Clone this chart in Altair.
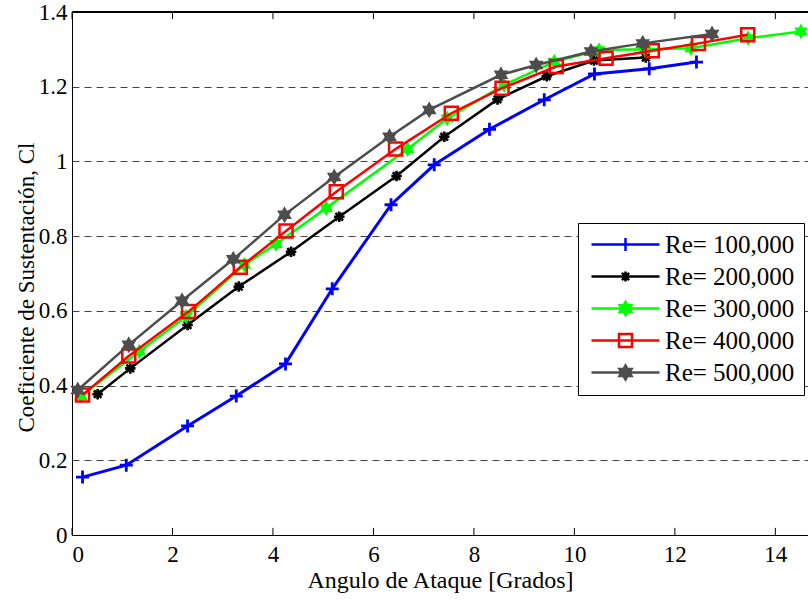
import altair as alt
import pandas as pd

# ---------------- data ----------------
series_names = ["Re= 100,000", "Re= 200,000", "Re= 300,000", "Re= 400,000", "Re= 500,000"]
series_colors = ["#0000ff", "#000000", "#00ff00", "#ff0000", "#4d4d4d"]

alpha_100 = [0.21, 1.08, 2.30, 3.27, 4.25, 5.18, 6.35, 7.21, 8.31, 9.40, 10.40, 11.49, 12.43]
cl_100 = [0.155, 0.187, 0.292, 0.372, 0.458, 0.659, 0.884, 0.991, 1.086, 1.165, 1.234, 1.248, 1.266]

alpha_200 = [0.51, 1.16, 2.30, 3.32, 4.36, 5.32, 6.46, 7.41, 8.47, 9.45, 10.39, 11.42]
cl_200 = [0.377, 0.446, 0.562, 0.665, 0.758, 0.852, 0.961, 1.066, 1.166, 1.228, 1.270, 1.278]

alpha_300 = [0.18, 1.34, 2.27, 3.43, 4.06, 5.06, 6.68, 7.47, 8.60, 9.60, 10.49, 11.40, 12.32, 13.46, 14.51]
cl_300 = [0.372, 0.491, 0.585, 0.723, 0.779, 0.875, 1.033, 1.115, 1.205, 1.267, 1.298, 1.300, 1.303, 1.330, 1.348]

alpha_400 = [0.21, 1.13, 2.32, 3.35, 4.26, 5.26, 6.44, 7.55, 8.56, 9.64, 10.63, 11.55, 12.47, 13.45]
cl_400 = [0.375, 0.479, 0.598, 0.717, 0.814, 0.919, 1.033, 1.129, 1.196, 1.254, 1.276, 1.296, 1.316, 1.339]

alpha_500 = [0.115, 1.13, 2.19, 3.21, 4.23, 5.22, 6.32, 7.11, 8.54, 9.24, 10.33, 11.36, 12.74]
cl_500 = [0.388, 0.509, 0.627, 0.738, 0.857, 0.958, 1.066, 1.138, 1.232, 1.258, 1.294, 1.316, 1.341]

x_ticks = [0, 2, 4, 6, 8, 10, 12, 14]
y_ticks = [0, 0.2, 0.4, 0.6, 0.8, 1.0, 1.2, 1.4]

x_title = "Angulo de Ataque [Grados]"
y_title = "Coeficiente de Sustentación, Cl"

# ---------------- marker shapes (style only) ----------------
HEX = [(0, -1), (0.289, -0.5), (0.866, -0.5), (0.577, 0), (0.866, 0.5), (0.289, 0.5),
       (0, 1), (-0.289, 0.5), (-0.866, 0.5), (-0.577, 0), (-0.866, -0.5), (-0.289, -0.5)]
SQUARE = [(-1, -1), (1, -1), (1, 1), (-1, 1)]
PLUS = [((-1, 0), (1, 0)), ((0, -1), (0, 1))]
ASTER = [((-1, 0), (1, 0)), ((0, -1), (0, 1)), ((-0.72, -0.72), (0.72, 0.72)), ((-0.72, 0.72), (0.72, -0.72))]


def poly_path(pts, s=1.0, cx=0.0):
    return "M" + "L".join(f"{cx + x * s:.3f},{y * s:.3f}" for x, y in pts) + "Z"


def seg_path(segs, s=1.0, cx=0.0):
    return "".join(f"M{cx + a[0] * s:.3f},{a[1] * s:.3f}L{cx + b[0] * s:.3f},{b[1] * s:.3f}" for a, b in segs)


def marker(kind, s=1.0, cx=0.0):
    if kind == "plus":
        return seg_path(PLUS, s, cx)
    if kind == "aster":
        return seg_path(ASTER, s, cx)
    if kind == "square":
        return poly_path(SQUARE, s, cx)
    return poly_path(HEX, s, cx)


styles = [
    dict(kind="plus", size=169, filled=False, lw=3.0, mw=2.8, fill="#0000ff", ls=0.65),
    dict(kind="aster", size=110, filled=False, lw=2.5, mw=2.6, fill="#000000", ls=0.5),
    dict(kind="hex", size=160, filled=True, lw=2.5, mw=1.5, fill="#00ff00", ls=0.65),
    dict(kind="square", size=169, filled=False, lw=2.5, mw=2.5, fill="#ffffff", ls=0.65),
    dict(kind="hex", size=196, filled=True, lw=2.5, mw=1.5, fill="#4d4d4d", ls=0.7),
]

# legend symbols: line segment + marker, drawn at symbol size 400 (10 px per unit)
legend_paths = [
    "M-0.8,0L6.0,0" + marker(st["kind"], st["ls"], 2.6) for st in styles
]

all_alpha = [alpha_100, alpha_200, alpha_300, alpha_400, alpha_500]
all_cl = [cl_100, cl_200, cl_300, cl_400, cl_500]

rows = []
for name, al, cl in zip(series_names, all_alpha, all_cl):
    for i, (a, c) in enumerate(zip(al, cl)):
        rows.append({"series": name, "alpha": a, "cl": c, "idx": i})
df = pd.DataFrame(rows)

FONT = "Liberation Serif"
XDOM = [0, 14.65]
YDOM = [0, 1.4]
xscale = alt.Scale(domain=XDOM, nice=False, zero=False)
yscale = alt.Scale(domain=YDOM, nice=False, zero=False)

AX = alt.Axis(orient="bottom", values=x_ticks, grid=False, ticks=False, tickSize=0,
              labelPadding=8, title=x_title, titlePadding=2, titleFontSize=24)
AY = alt.Axis(orient="left", values=y_ticks, grid=True, ticks=False, tickSize=0, format="~g",
              labelPadding=5, title=y_title, titlePadding=0, titleFontSize=23, titleY=275,
              gridDash=[7, 5], gridColor="#222222", gridWidth=1, gridOpacity=0.85)


def xe(field):
    return alt.X(field, scale=xscale, axis=AX, title=x_title)


def ye(field):
    return alt.Y(field, scale=yscale, axis=AY, title=y_title)


layers = []
for k, (name, color, st) in enumerate(zip(series_names, series_colors, styles)):
    sub = df[df["series"] == name]
    base = alt.Chart(sub)
    line = base.mark_line(color=color, strokeWidth=st["lw"]).encode(
        x=xe("alpha:Q"), y=ye("cl:Q"), order="idx:Q",
    )
    if st["filled"]:
        pts = base.mark_point(
            shape=marker(st["kind"]), size=st["size"], filled=True,
            fill=st["fill"], stroke=color, strokeWidth=st["mw"], opacity=1,
        )
    else:
        pts = base.mark_point(
            shape=marker(st["kind"]), size=st["size"], filled=False,
            color=color, strokeWidth=st["mw"], opacity=1,
        )
    pts = pts.encode(x=xe("alpha:Q"), y=ye("cl:Q"))
    layers += [line, pts]

# frame: inward tick marks at top and bottom, and the top border line
tick_df = pd.DataFrame({"t": x_ticks})
bottom_ticks = alt.Chart(tick_df).mark_rule(color="black", strokeWidth=1).encode(
    x=xe("t:Q"),
    y=alt.YDatum(YDOM[0], scale=yscale, axis=AY, title=y_title), y2=alt.Y2Datum(0.019),
)
top_ticks = alt.Chart(tick_df).mark_rule(color="black", strokeWidth=1).encode(
    x=xe("t:Q"),
    y=alt.YDatum(YDOM[1], scale=yscale, axis=AY, title=y_title), y2=alt.Y2Datum(1.381),
)
top_border = alt.Chart(tick_df).mark_rule(color="black", strokeWidth=1).encode(
    x=alt.XDatum(XDOM[0], scale=xscale, axis=AX, title=x_title),
    x2=alt.X2Datum(XDOM[1]),
    y=alt.YDatum(YDOM[1], scale=yscale, axis=AY, title=y_title),
)

# legend layer (no drawn data, only the legend)
leg_df = pd.DataFrame({"series": series_names})
leg = alt.Legend(
    orient="none", legendX=506, legendY=211, title=None,
    labelFont=FONT, labelFontSize=25, labelColor="black",
    strokeColor="black", fillColor="white", padding=9,
    rowPadding=6, labelOffset=53, symbolSize=400, symbolStrokeWidth=2.5,
    symbolOpacity=1,
)
legend_layer = alt.Chart(leg_df).transform_filter("false").mark_point(filled=True, size=400).encode(
    shape=alt.Shape("series:N", scale=alt.Scale(domain=series_names, range=legend_paths), legend=leg),
    stroke=alt.Stroke("series:N", scale=alt.Scale(domain=series_names, range=series_colors), legend=leg),
    fill=alt.Fill("series:N", scale=alt.Scale(domain=series_names, range=[s["fill"] for s in styles]), legend=leg),
)

chart = alt.layer(bottom_ticks, top_ticks, top_border, *layers, legend_layer).properties(
    width=736,
    height=523,
    autosize=alt.AutoSizeParams(type="none"),
    padding={"left": 72, "top": 12, "right": 0, "bottom": 65},
    background="white",
).configure_view(stroke=None).configure_axis(
    labelFont=FONT, labelFontSize=23, labelColor="black",
    titleFont=FONT, titleFontSize=23, titleFontWeight="normal", titleColor="black",
    domainColor="black", domainWidth=1,
)

chart.save("out.html", embed_options={"renderer": "svg", "actions": False})
